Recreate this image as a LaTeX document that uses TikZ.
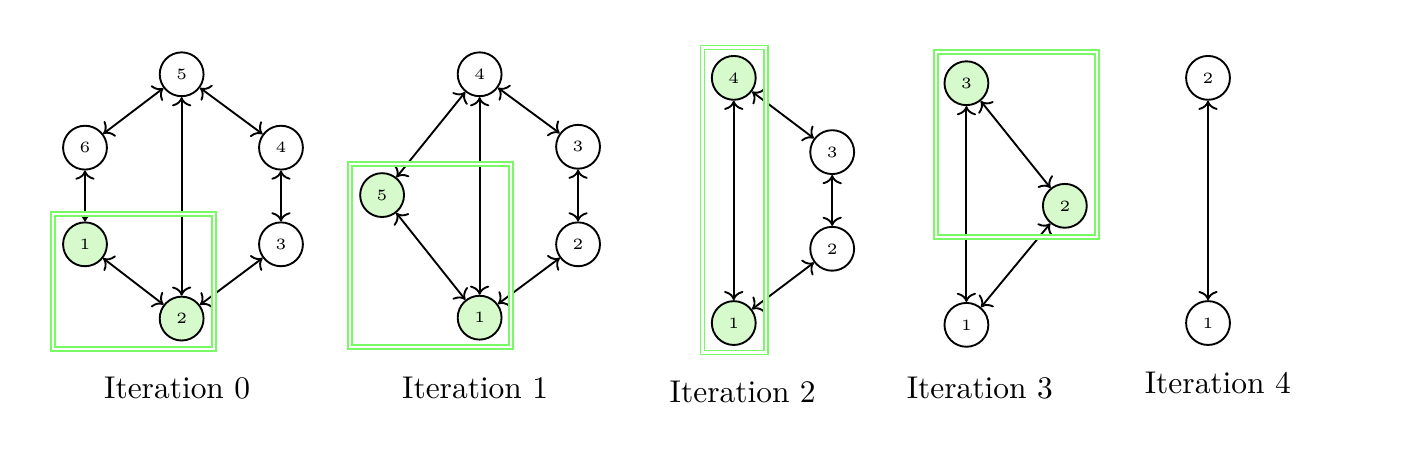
\documentclass[tikz,border=0pt]{standalone}
\usetikzlibrary{arrows.meta}
\definecolor{boxgreen}{RGB}{120,250,100}
\definecolor{chosenfill}{RGB}{215,250,205}
\tikzset{
    vtx/.style={circle, draw, semithick, minimum size=0.49cm, inner sep=0pt, font=\tiny},
    chosen/.style={vtx, fill=chosenfill},
    edge/.style={<->, semithick},
    cyclebox/.style={draw=boxgreen, line width=0.55pt, double=white, double distance=0.75pt},
    itlabel/.style={font=\normalsize}
}

\begin{document}
\begin{tikzpicture}
    \useasboundingbox (0,0) rectangle (15.69,-5.27);

    % Iteration 0: the full graph
    \node[vtx]    (a5) at (2.03,-0.83) {5};
    \node[vtx]    (a6) at (0.95,-1.65) {6};
    \node[vtx]    (a4) at (3.14,-1.65) {4};
    \node[chosen] (a1) at (0.95,-2.73) {1};
    \node[vtx]    (a3) at (3.14,-2.73) {3};
    \node[chosen] (a2) at (2.03,-3.56) {2};
    \foreach \u/\v in {a5/a6, a5/a4, a5/a2, a6/a1, a4/a3, a1/a2, a3/a2} {
        \draw[edge] (\u) -- (\v);
    }
    \draw[cyclebox] (0.59,-2.39) rectangle (2.39,-3.90);
    \node[itlabel] (l0) at (1.98,-4.34) {Iteration 0};

    % Iteration 1: 1 and 2 merged
    \node[vtx]    (b4) at (5.36,-0.83) {4};
    \node[vtx]    (b3) at (6.46,-1.64) {3};
    \node[chosen] (b5) at (4.27,-2.18) {5};
    \node[vtx]    (b2) at (6.46,-2.73) {2};
    \node[chosen] (b1) at (5.36,-3.55) {1};
    \foreach \u/\v in {b4/b5, b4/b1, b4/b3, b3/b2, b5/b1, b2/b1} {
        \draw[edge] (\u) -- (\v);
    }
    \draw[cyclebox] (3.91,-1.83) rectangle (5.71,-3.88);
    \node[itlabel] (l1) at (5.31,-4.34) {Iteration 1};

    % Iteration 2
    \node[chosen] (c4) at (8.20,-0.87) {4};
    \node[vtx]    (c3) at (9.30,-1.70) {3};
    \node[vtx]    (c2) at (9.30,-2.78) {2};
    \node[chosen] (c1) at (8.20,-3.61) {1};
    \foreach \u/\v in {c4/c1, c4/c3, c3/c2, c2/c1} {
        \draw[edge] (\u) -- (\v);
    }
    \draw[cyclebox] (7.85,-0.53) rectangle (8.56,-3.94);
    \node[itlabel] (l2) at (8.30,-4.38) {Iteration 2};

    % Iteration 3
    \node[chosen] (d3) at (10.80,-0.93) {3};
    \node[chosen] (d2) at (11.90,-2.30) {2};
    \node[vtx]    (d1) at (10.80,-3.63) {1};
    \foreach \u/\v in {d3/d1, d3/d2, d2/d1} {
        \draw[edge] (\u) -- (\v);
    }
    \draw[cyclebox] (10.46,-0.58) rectangle (12.26,-2.65);
    \node[itlabel] (l3) at (10.95,-4.34) {Iteration 3};

    % Iteration 4: two vertices left
    \node[vtx] (e2) at (13.50,-0.87) {2};
    \node[vtx] (e1) at (13.50,-3.61) {1};
    \draw[edge] (e2) -- (e1);
    \node[itlabel] (l4) at (13.61,-4.28) {Iteration 4};
\end{tikzpicture}
\end{document}
